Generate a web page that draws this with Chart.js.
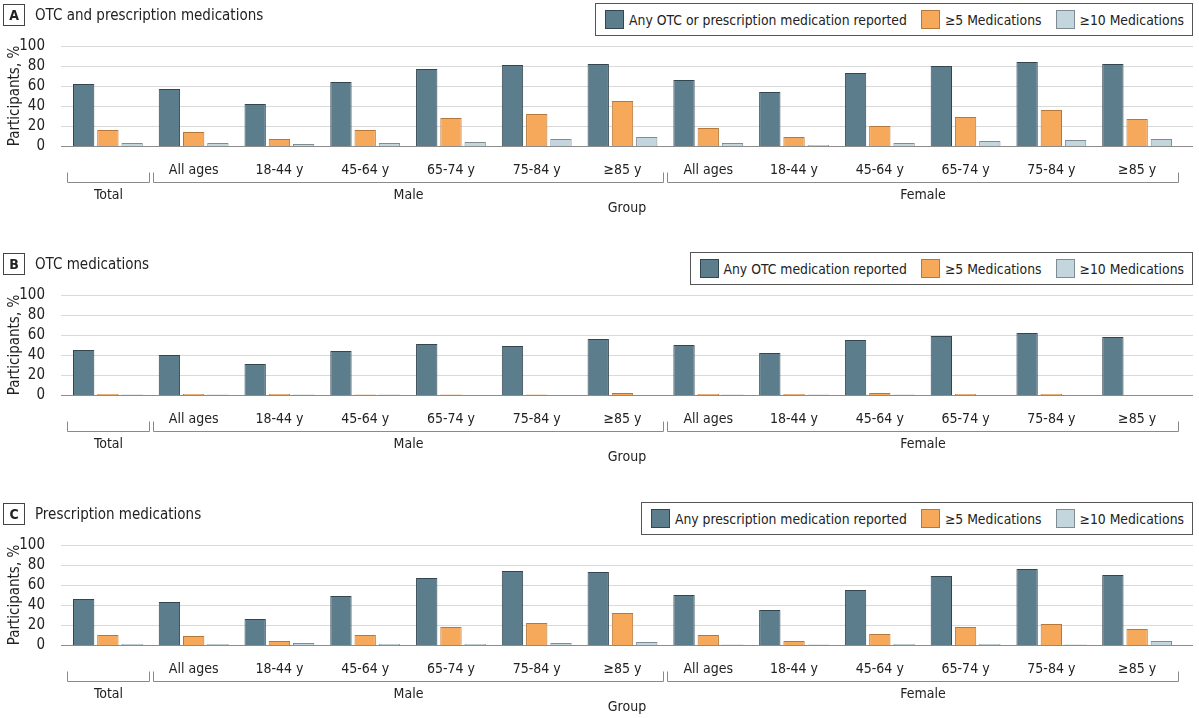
<!DOCTYPE html>
<html>
<head>
<meta charset="utf-8">
<script src="https://cdn.jsdelivr.net/npm/chart.js@4.4.1/dist/chart.umd.min.js"></script>
<style>
  body { margin: 0; background: #fff; font-family: "DejaVu Sans Condensed", sans-serif; color: #222; }
  .panel { position: absolute; left: 0; width: 1199px; height: 219px; }
  .panel canvas { position: absolute; left: 0; top: 0; }
  .tag { position: absolute; left: 3px; top: 4px; width: 20px; height: 20px; border: 1px solid #444;
         font-weight: bold; font-size: 14px; text-align: center; line-height: 20px; }
  .ptitle { position: absolute; left: 35px; top: 4px; font-size: 15px; line-height: 22px; }
  .legend { position: absolute; right: 6px; top: 3px; height: 33px; border: 1px solid #555; box-sizing: border-box;
            display: flex; align-items: center; padding: 0 8px 0 9px; font-size: 13.8px; background: #fff; }
  .item { display: flex; align-items: center; margin-left: 14px; }
  .item:first-child { margin-left: 0; }
  .sw { width: 17px; height: 17px; border: 1px solid; margin-right: 5px; }
</style>
</head>
<body>
<script>
const categories = ['Total', 'All ages', '18-44 y', '45-64 y', '65-74 y', '75-84 y', '≥85 y',
                    'All ages', '18-44 y', '45-64 y', '65-74 y', '75-84 y', '≥85 y'];
const groupNames = ['Total', 'Male', 'Female'];
const groupFirst = [0, 1, 7];
const groupLast = [0, 6, 12];
const yTicks = [0, 20, 40, 60, 80, 100];

// A: OTC and prescription
const anyBoth  = [62, 57, 42, 64, 77, 81, 82, 66, 54, 73, 80, 84, 82];
const fiveBoth = [16, 14, 7, 16, 28, 32, 45, 18, 9, 20, 29, 36, 27];
const tenBoth  = [3, 3, 2, 3, 4, 7, 9, 3, 1, 3, 5, 6, 7];

// B: OTC only
const anyOtc  = [45, 40, 31, 44, 51, 49, 56, 50, 42, 55, 59, 62, 58];
const fiveOtc = [1, 1, 1, 0.5, 0.5, 0.5, 2, 1, 1, 2, 1, 1, 0];
const tenOtc  = [0.5, 0.5, 0.5, 0.5, 0, 0, 0, 0.5, 0.5, 0.5, 0, 0, 0];

// C: prescription only
const anyRx  = [46, 43, 26, 49, 67, 74, 73, 50, 35, 55, 69, 76, 70];
const fiveRx = [10, 9, 4, 10, 18, 22, 32, 10, 4, 11, 18, 21, 16];
const tenRx  = [1, 1, 2, 1, 1, 2, 3, 0.5, 0.5, 1, 1, 0.5, 4];

const fills = ['#5b7d8c', '#f7a95b', '#c3d6de'];
const borders = ['#34464f', '#b5773a', '#7f8d93'];
const fontFam = '"DejaVu Sans Condensed", sans-serif';

const panels = [
  { top: 0, tag: 'A', title: 'OTC and prescription medications',
    names: ['Any OTC or prescription medication reported', '≥5 Medications', '≥10 Medications'],
    values: [anyBoth, fiveBoth, tenBoth] },
  { top: 249, tag: 'B', title: 'OTC medications',
    names: ['Any OTC medication reported', '≥5 Medications', '≥10 Medications'],
    values: [anyOtc, fiveOtc, tenOtc] },
  { top: 499, tag: 'C', title: 'Prescription medications',
    names: ['Any prescription medication reported', '≥5 Medications', '≥10 Medications'],
    values: [anyRx, fiveRx, tenRx] }
];

// grid lines run a bit wider than the category area
const gridPlugin = {
  id: 'grid',
  beforeDatasetsDraw(chart) {
    const ctx = chart.ctx, y = chart.scales.y;
    ctx.save();
    ctx.lineWidth = 1;
    yTicks.forEach(v => {
      const py = Math.round(y.getPixelForValue(v)) + 0.5;
      ctx.strokeStyle = v === 0 ? '#8c8c8c' : '#dadada';
      ctx.beginPath();
      ctx.moveTo(61, py);
      ctx.lineTo(1193, py);
      ctx.stroke();
    });
    ctx.restore();
  }
};

// brackets + group names under the category labels
const bracketPlugin = {
  id: 'brackets',
  afterDraw(chart) {
    const ctx = chart.ctx, x = chart.scales.x;
    const w = x.getPixelForValue(1) - x.getPixelForValue(0);
    const by = chart.chartArea.bottom + 36.5;
    ctx.save();
    ctx.strokeStyle = '#8a8a8a';
    ctx.lineWidth = 1;
    ctx.fillStyle = '#222';
    ctx.font = '14px ' + fontFam;
    ctx.textAlign = 'center';
    ctx.textBaseline = 'middle';
    groupNames.forEach((g, i) => {
      const x0 = Math.round(x.getPixelForValue(groupFirst[i]) - w / 2 + 2) + 0.5;
      const x1 = Math.round(x.getPixelForValue(groupLast[i]) + w / 2 - 2) + 0.5;
      ctx.beginPath();
      ctx.moveTo(x0, by - 10);
      ctx.lineTo(x0, by);
      ctx.lineTo(x1, by);
      ctx.lineTo(x1, by - 10);
      ctx.stroke();
      ctx.fillText(g, (x0 + x1) / 2, by + 13);
    });
    ctx.fillText('Group', 627, chart.chartArea.bottom + 62);
    ctx.restore();
  }
};

panels.forEach(p => {
  const div = document.createElement('div');
  div.className = 'panel';
  div.style.top = p.top + 'px';
  const canvas = document.createElement('canvas');
  canvas.width = 1199;
  canvas.height = 219;
  div.appendChild(canvas);

  const tag = document.createElement('div');
  tag.className = 'tag';
  tag.textContent = p.tag;
  div.appendChild(tag);
  const t = document.createElement('div');
  t.className = 'ptitle';
  t.textContent = p.title;
  div.appendChild(t);

  const leg = document.createElement('div');
  leg.className = 'legend';
  p.names.forEach((n, i) => {
    const it = document.createElement('div');
    it.className = 'item';
    it.innerHTML = '<span class="sw" style="background:' + fills[i] + ';border-color:' + borders[i] + '"></span><span>' + n + '</span>';
    leg.appendChild(it);
  });
  div.appendChild(leg);
  document.body.appendChild(div);

  new Chart(canvas.getContext('2d'), {
    type: 'bar',
    data: {
      labels: categories,
      datasets: p.values.map((vals, i) => ({
        label: p.names[i],
        data: vals,
        backgroundColor: fills[i],
        borderColor: borders[i],
        borderWidth: 1,
        categoryPercentage: 0.848,
        barPercentage: 0.88
      }))
    },
    options: {
      responsive: false,
      animation: false,
      layout: { padding: { top: 46, right: 19, left: 0, bottom: 0 } },
      plugins: { legend: { display: false }, tooltip: { enabled: false } },
      scales: {
        x: {
          grid: { display: false },
          border: { display: false },
          ticks: {
            padding: 8,
            color: '#222',
            font: { family: fontFam, size: 14 },
            maxRotation: 0,
            autoSkip: false,
            callback: (v, i) => (i === 0 ? '' : categories[i])
          },
          afterFit: s => { s.height = 73; }
        },
        y: {
          min: 0,
          max: 100,
          afterBuildTicks: s => { s.ticks = yTicks.map(v => ({ value: v })); },
          grid: { display: false },
          border: { display: false },
          ticks: { padding: 12, autoSkip: false, color: '#222', font: { family: fontFam, size: 15 } },
          title: {
            display: true,
            text: 'Participants, %',
            color: '#222',
            font: { family: fontFam, size: 15 },
            padding: { top: 6, bottom: 0 }
          },
          afterFit: s => { s.width = 65; }
        }
      }
    },
    plugins: [gridPlugin, bracketPlugin]
  });
});
</script>
</body>
</html>
